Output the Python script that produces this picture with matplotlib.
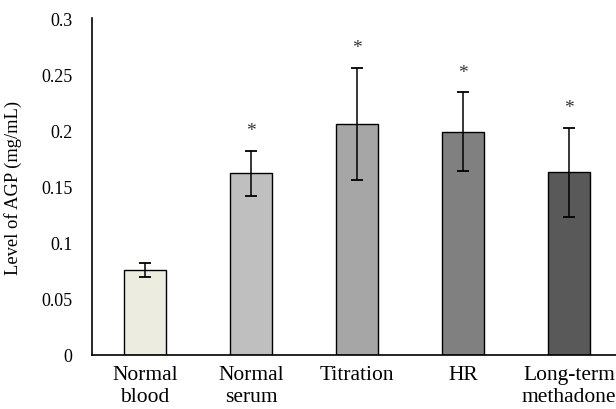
import matplotlib
matplotlib.use("Agg")
import matplotlib.pyplot as plt

categories = ["Normal\nblood", "Normal\nserum", "Titration", "HR", "Long-term\nmethadone"]
values = [0.0756, 0.1617, 0.2058, 0.1987, 0.1625]
errors = [0.0063, 0.0200, 0.0500, 0.0350, 0.0400]
significant = [False, True, True, True, True]
colors = ["#ECECE0", "#BFBFBF", "#A6A6A6", "#808080", "#595959"]
yticks = [0, 0.05, 0.1, 0.15, 0.2, 0.25, 0.3]
ytick_labels = ["0", "0.05", "0.1", "0.15", "0.2", "0.25", "0.3"]

plt.rcParams['font.family'] = ['Liberation Serif', 'DejaVu Serif']

fig = plt.figure(figsize=(6.16, 4.10), dpi=100)
ax = fig.add_axes([92/616, 54/410, 1 - 92/616 + 0.01, (356-19)/410])

x = list(range(len(categories)))
ax.bar(x, values, width=0.4, color=colors, edgecolor="black", linewidth=1.0, zorder=2)
ax.errorbar(x, values, yerr=errors, fmt="none", ecolor="black", elinewidth=1.1,
            capsize=4, capthick=1.3, zorder=3)
for xi, v, e, s in zip(x, values, errors, significant):
    if s:
        ax.text(xi, v + e + 0.018, "*", ha="center", va="center", fontsize=14, color="#333333")

ax.set_xlim(-0.5, 4.5)
ax.set_ylim(0, 0.3)
ax.set_yticks(yticks)
ax.set_yticklabels(ytick_labels)
ax.set_xticks(x)
ax.set_xticklabels(categories)
ax.tick_params(axis="y", length=0, labelsize=13, pad=14)
ax.tick_params(axis="x", length=0, labelsize=15.5, pad=7)
for lbl in ax.get_xticklabels():
    lbl.set_linespacing(1.2)
ax.spines["top"].set_visible(False)
ax.spines["right"].set_visible(False)
ax.spines["left"].set_linewidth(1.2)
ax.spines["bottom"].set_linewidth(1.2)
ax.set_ylabel("Level of AGP (mg/mL)", fontsize=13.3)
ax.yaxis.set_label_coords(-(92-23)/524, 0.5)

fig.savefig("out.png", dpi=100)
